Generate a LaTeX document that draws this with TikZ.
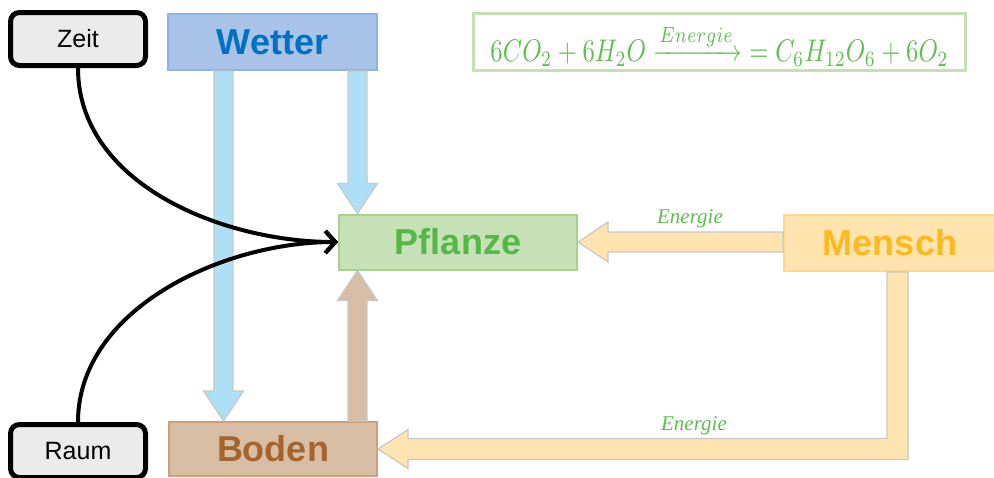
\documentclass[tikz,border=0pt]{standalone}
\usepackage{fontspec}
\usepackage{amsmath}
\usepackage{graphicx}
\usetikzlibrary{arrows.meta,calc}
\newfontfamily\arial{Liberation Sans}
\newfontfamily\cambr{Liberation Serif}
\definecolor{greyfill}{RGB}{235,235,235}
\definecolor{wetfill}{RGB}{169,195,232}
\definecolor{wetdraw}{RGB}{143,180,227}
\definecolor{wettext}{RGB}{0,112,192}
\definecolor{pflfill}{RGB}{198,225,182}
\definecolor{pfldraw}{RGB}{169,209,142}
\definecolor{pfltext}{RGB}{84,184,72}
\definecolor{menfill}{RGB}{255,228,176}
\definecolor{mendraw}{RGB}{255,215,140}
\definecolor{mentext}{RGB}{255,185,30}
\definecolor{bodfill}{RGB}{216,189,165}
\definecolor{boddraw}{RGB}{205,160,120}
\definecolor{bodtext}{RGB}{165,100,45}
\definecolor{bluearr}{RGB}{173,223,247}
\definecolor{arrline}{RGB}{200,200,200}
\definecolor{eqgreen}{RGB}{95,190,80}
\definecolor{eqdraw}{RGB}{197,224,180}
\newcommand\arrowdown[3]{\draw[#1] let \p1=(#2), \p2=(#3) in
  (\x2-9.5pt,\y1) -- (\x2-9.5pt,\y2+30pt) -- (\x2-20pt,\y2+30pt) -- (\p2)
  -- (\x2+20pt,\y2+30pt) -- (\x2+9.5pt,\y2+30pt) -- (\x2+9.5pt,\y1) -- cycle;}
\newcommand\arrowup[3]{\draw[#1] let \p1=(#2), \p2=(#3) in
  (\x2-9.5pt,\y1) -- (\x2-9.5pt,\y2-30pt) -- (\x2-20pt,\y2-30pt) -- (\p2)
  -- (\x2+20pt,\y2-30pt) -- (\x2+9.5pt,\y2-30pt) -- (\x2+9.5pt,\y1) -- cycle;}
\newcommand\arrowleft[3]{\draw[#1] let \p1=(#2), \p2=(#3) in
  (\x1,\y2-10pt) -- (\x2+30pt,\y2-10pt) -- (\x2+30pt,\y2-20pt) -- (\p2)
  -- (\x2+30pt,\y2+20pt) -- (\x2+30pt,\y2+10pt) -- (\x1,\y2+10pt) -- cycle;}
\begin{document}
\begin{tikzpicture}[x=1pt,y=-1pt,
  roundbox/.style={draw=black, line width=5pt, fill=greyfill, rounded corners=9pt,
    minimum width=135pt, minimum height=53pt, inner sep=0pt,
    font=\arial\fontsize{25}{29}\selectfont},
  mainbox/.style={line width=2pt, minimum height=56pt, inner sep=0pt,
    font=\arial\bfseries\fontsize{36}{40}\selectfont},
  bluearrow/.style={fill=bluearr, draw=arrline, line width=1.2pt},
  brownarrow/.style={fill=bodfill, draw=arrline, line width=1.2pt},
  orangearrow/.style={fill=menfill, draw=arrline, line width=1.2pt},
  elabel/.style={text=eqgreen, font=\cambr\itshape\fontsize{21}{25}\selectfont, inner sep=0pt, anchor=base},
  curve/.style={draw=black, line width=4pt, -{Straight Barb[length=10pt,width=22pt]}}
]
\useasboundingbox (0,0) rectangle (994,477);
\fill[white] (0,0) rectangle (994,477);

% boxes
\node[roundbox] (Zeit) at (78,39) {Zeit};
\node[roundbox] (Raum) at (78,451) {Raum};
\node[mainbox, fill=wetfill, draw=wetdraw, text=wettext, minimum width=209pt] (Wetter) at (272.5,42) {Wetter};
\node[mainbox, fill=pflfill, draw=pfldraw, text=pfltext, minimum width=238pt, minimum height=55pt] (Pflanze) at (458,242) {Pflanze};
\node[mainbox, fill=menfill, draw=mendraw, text=mentext, minimum width=212pt] (Mensch) at (890,243) {Mensch};
\node[mainbox, fill=bodfill, draw=boddraw, text=bodtext, minimum width=208pt, minimum height=54pt] (Boden) at (273,449) {Boden};
\node[draw=eqdraw, line width=3pt, minimum width=492pt, minimum height=57pt, inner sep=0pt] (eq) at (719.5,42) {};
\node[text=eqgreen, inner sep=0pt] (eqtext) at (719.5,45)
  {\resizebox*{458pt}{42pt}{$6CO_2+6H_2O\xrightarrow{Energie}\;=C_6H_{12}O_6+6O_2$}};

% x positions of the vertical block arrows
\coordinate (xbl) at (223.5,0);
\coordinate (xbr) at (357.5,0);
\coordinate (xm) at (897.5,0);

% block arrows
\arrowdown{bluearrow}{Wetter.south -| xbl}{Boden.north -| xbl}
\arrowdown{bluearrow}{Wetter.south -| xbr}{Pflanze.north -| xbr}
\arrowup{brownarrow}{Boden.north -| xbr}{Pflanze.south -| xbr}
\arrowleft{orangearrow}{Mensch.west}{Pflanze.east}
\draw[orangearrow] let \p1=(Mensch.south -| xm), \p2=(Boden.east) in
  (\x1-10.5pt,\y1) -- (\x1-10.5pt,\y2+10.5pt) -- (\x2+30pt,\y2+10.5pt)
  -- (\x2+30pt,\y2+19.5pt) -- (\p2) -- (\x2+30pt,\y2-19.5pt)
  -- (\x2+30pt,\y2-10.5pt) -- (\x1+10.5pt,\y2-10.5pt) -- (\x1+10.5pt,\y1) -- cycle;

\node[elabel] (e1) at (690,223) {Energie};
\node[elabel] (e2) at (694,430) {Energie};

% curves
\draw[curve] (Zeit.south) .. controls +(0,115) and +(-117,0) .. (Pflanze.west);
\draw[curve] (Raum.north) .. controls +(0,-112) and +(-117,0) .. (Pflanze.west);
\end{tikzpicture}
\end{document}
